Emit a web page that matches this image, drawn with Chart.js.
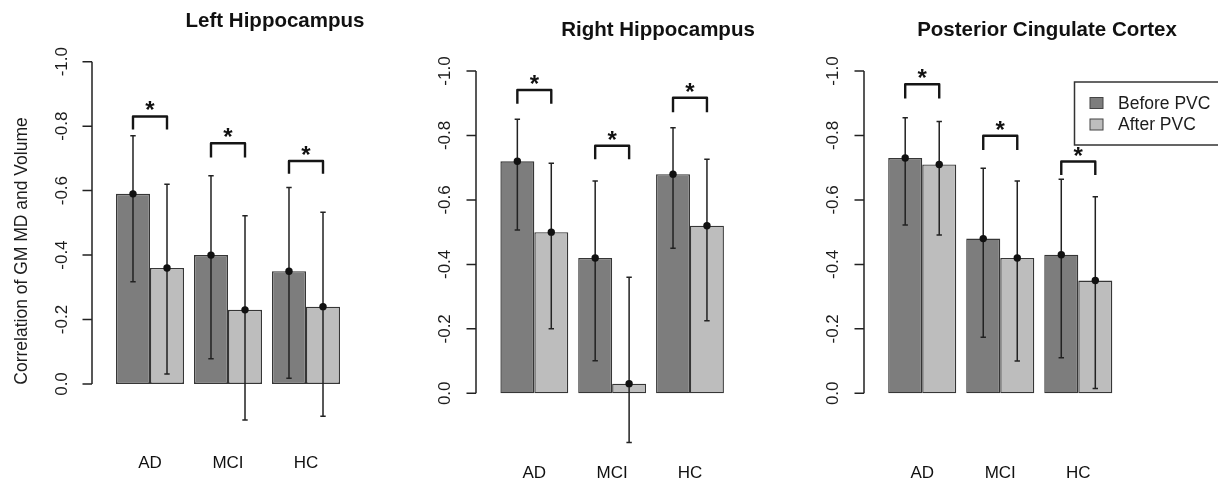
<!DOCTYPE html>
<html>
<head>
<meta charset="utf-8">
<script src="https://cdn.jsdelivr.net/npm/chart.js@4.4.0/dist/chart.umd.min.js"></script>
<style>
  html, body { margin: 0; padding: 0; background: #fff; }
  #wrap { position: relative; width: 1218px; height: 483px; overflow: hidden; }
  .panel { position: absolute; top: 0; height: 483px; }
</style>
</head>
<body>
<div id="wrap">
  <div class="panel" style="left:0;width:400px"><canvas id="c1"></canvas></div>
  <div class="panel" style="left:400px;width:400px"><canvas id="c2"></canvas></div>
  <div class="panel" style="left:800px;width:418px"><canvas id="c3"></canvas></div>
</div>
<script>
const groups = ['AD', 'MCI', 'HC'];
const seriesNames = ['Before PVC', 'After PVC'];
const yTicks = [-1.0, -0.8, -0.6, -0.4, -0.2, 0.0];
const titles = ['Left Hippocampus', 'Right Hippocampus', 'Posterior Cingulate Cortex'];
const yAxisTitle = 'Correlation of GM MD and Volume';

// Left hippocampus
const leftBefore = [-0.59, -0.40, -0.35];
const leftAfter = [-0.36, -0.23, -0.24];
const leftBeforeHi = [-0.77, -0.646, -0.61];
const leftBeforeLo = [-0.317, -0.078, -0.018];
const leftAfterHi = [-0.62, -0.522, -0.533];
const leftAfterLo = [-0.031, 0.112, 0.10];
const leftBracketTop = [-0.83, -0.747, -0.692];
const leftBracketLeg = [-0.79, -0.703, -0.652];

// Right hippocampus
const rightBefore = [-0.72, -0.42, -0.68];
const rightAfter = [-0.50, -0.03, -0.52];
const rightBeforeHi = [-0.85, -0.659, -0.824];
const rightBeforeLo = [-0.507, -0.101, -0.45];
const rightAfterHi = [-0.714, -0.36, -0.726];
const rightAfterLo = [-0.20, 0.153, -0.225];
const rightBracketTop = [-0.941, -0.768, -0.917];
const rightBracketLeg = [-0.898, -0.726, -0.872];

// Posterior cingulate cortex
const pccBefore = [-0.73, -0.48, -0.43];
const pccAfter = [-0.71, -0.42, -0.35];
const pccBeforeHi = [-0.855, -0.698, -0.664];
const pccBeforeLo = [-0.522, -0.174, -0.11];
const pccAfterHi = [-0.843, -0.659, -0.61];
const pccAfterLo = [-0.491, -0.10, -0.015];
const pccBracketTop = [-0.959, -0.799, -0.719];
const pccBracketLeg = [-0.915, -0.755, -0.677];

const FONT = '"Liberation Sans", Arial, sans-serif';
const DARK = '#7d7d7d';
const LIGHT = '#bdbdbd';

// panel layout (pixels inside each canvas)
const panels = {
  c1: {
    width: 400, plotLeft: 111, plotRight: 345, top: 61.7, zero: 384,
    axisX: 92, tickLabelX: 62, titleX: 275, titleY: 21, yTitleX: 22, yTitleY: 251,
    title: titles[0], legend: false,
    values: [leftBefore, leftAfter],
    errors: [{ hi: leftBeforeHi, lo: leftBeforeLo }, { hi: leftAfterHi, lo: leftAfterLo }],
    brackets: { top: leftBracketTop, leg: leftBracketLeg }
  },
  c2: {
    width: 400, plotLeft: 95.4, plotRight: 328.9, top: 71, zero: 393.3,
    axisX: 76, tickLabelX: 45, titleX: 258, titleY: 30,
    title: titles[1], legend: false,
    values: [rightBefore, rightAfter],
    errors: [{ hi: rightBeforeHi, lo: rightBeforeLo }, { hi: rightAfterHi, lo: rightAfterLo }],
    brackets: { top: rightBracketTop, leg: rightBracketLeg }
  },
  c3: {
    width: 418, plotLeft: 83.2, plotRight: 317.3, top: 71, zero: 393.3,
    axisX: 64, tickLabelX: 33, titleX: 247, titleY: 30,
    title: titles[2], legend: true,
    values: [pccBefore, pccAfter],
    errors: [{ hi: pccBeforeHi, lo: pccBeforeLo }, { hi: pccAfterHi, lo: pccAfterLo }],
    brackets: { top: pccBracketTop, leg: pccBracketLeg }
  }
};

const yMin = -1.0, yMax = 0.2;

const decorations = {
  id: 'decorations',
  afterDatasetsDraw(chart) {
    const p = panels[chart.canvas.id];
    const ctx = chart.ctx;
    const y = chart.scales.y;
    ctx.save();

    // error bars with value points
    p.errors.forEach((err, d) => {
      chart.getDatasetMeta(d).data.forEach((bar, i) => {
        const x = bar.x;
        const yHi = y.getPixelForValue(err.hi[i]);
        const yLo = y.getPixelForValue(err.lo[i]);
        ctx.strokeStyle = '#222';
        ctx.lineWidth = 1.5;
        ctx.beginPath();
        ctx.moveTo(x, yHi); ctx.lineTo(x, yLo);
        ctx.moveTo(x - 2.7, yHi); ctx.lineTo(x + 2.7, yHi);
        ctx.moveTo(x - 2.7, yLo); ctx.lineTo(x + 2.7, yLo);
        ctx.stroke();
        ctx.fillStyle = '#111';
        ctx.beginPath();
        ctx.arc(x, bar.y, 3.7, 0, Math.PI * 2);
        ctx.fill();
      });
    });

    // significance brackets
    const m0 = chart.getDatasetMeta(0), m1 = chart.getDatasetMeta(1);
    p.brackets.top.forEach((t, i) => {
      const x0 = m0.data[i].x, x1 = m1.data[i].x;
      const yt = y.getPixelForValue(t);
      const yl = y.getPixelForValue(p.brackets.leg[i]);
      ctx.strokeStyle = '#151515';
      ctx.lineWidth = 2.4;
      ctx.lineJoin = 'round';
      ctx.lineCap = 'butt';
      ctx.beginPath();
      ctx.moveTo(x0, yl); ctx.lineTo(x0, yt); ctx.lineTo(x1, yt); ctx.lineTo(x1, yl);
      ctx.stroke();
      ctx.fillStyle = '#111';
      ctx.font = 'bold 24px ' + FONT;
      ctx.textAlign = 'center';
      ctx.textBaseline = 'alphabetic';
      ctx.fillText('*', (x0 + x1) / 2, yt + 2);
    });
    ctx.restore();
  },
  afterDraw(chart) {
    const p = panels[chart.canvas.id];
    const ctx = chart.ctx;
    const y = chart.scales.y;
    ctx.save();

    // y axis line and ticks from -1.0 to 0.0
    const yTop = y.getPixelForValue(yTicks[0]);
    const yBot = y.getPixelForValue(yTicks[yTicks.length - 1]);
    ctx.strokeStyle = '#222';
    ctx.lineWidth = 1.5;
    ctx.beginPath();
    ctx.moveTo(p.axisX, yTop); ctx.lineTo(p.axisX, yBot);
    yTicks.forEach(v => {
      const ty = y.getPixelForValue(v);
      ctx.moveTo(p.axisX - 9.5, ty); ctx.lineTo(p.axisX, ty);
    });
    ctx.stroke();

    // rotated tick labels
    ctx.fillStyle = '#1c1c1c';
    ctx.font = '17px ' + FONT;
    ctx.textAlign = 'center';
    ctx.textBaseline = 'middle';
    yTicks.forEach(v => {
      const ty = y.getPixelForValue(v);
      ctx.save();
      ctx.translate(p.tickLabelX, ty);
      ctx.rotate(-Math.PI / 2);
      ctx.fillText(v === 0 ? '0.0' : v.toFixed(1), 0, 0);
      ctx.restore();
    });

    // axis title (first panel only)
    if (p.yTitleX !== undefined) {
      ctx.save();
      ctx.translate(p.yTitleX, p.yTitleY);
      ctx.rotate(-Math.PI / 2);
      ctx.font = '17.5px ' + FONT;
      ctx.fillText(yAxisTitle, 0, 0);
      ctx.restore();
    }

    // panel title
    ctx.fillStyle = '#111';
    ctx.font = 'bold 20.5px ' + FONT;
    ctx.textAlign = 'center';
    ctx.fillText(p.title, p.titleX, p.titleY);

    // legend box
    if (p.legend) {
      ctx.strokeStyle = '#333';
      ctx.lineWidth = 1.5;
      ctx.strokeRect(274.5, 82, 160, 63);
      chart.data.datasets.forEach((ds, d) => {
        const cy = 103 + d * 21.5;
        ctx.fillStyle = ds.backgroundColor;
        ctx.fillRect(290, cy - 5.5, 13, 11);
        ctx.strokeStyle = '#444';
        ctx.lineWidth = 1;
        ctx.strokeRect(290, cy - 5.5, 13, 11);
        ctx.fillStyle = '#1c1c1c';
        ctx.font = '17.5px ' + FONT;
        ctx.textAlign = 'left';
        ctx.textBaseline = 'middle';
        ctx.fillText(ds.label, 318, cy + 1);
      });
    }
    ctx.restore();
  }
};

function makeChart(id) {
  const p = panels[id];
  const unit = p.zero - p.top;
  const plotBottom = p.zero + yMax * unit;
  new Chart(document.getElementById(id), {
    type: 'bar',
    data: {
      labels: groups,
      datasets: p.values.map((vals, d) => ({
        label: seriesNames[d],
        data: vals,
        backgroundColor: d === 0 ? DARK : LIGHT,
        borderColor: '#363636',
        borderWidth: 1.4,
        borderSkipped: false,
        categoryPercentage: 0.872,
        barPercentage: 1.0
      }))
    },
    options: {
      responsive: true,
      maintainAspectRatio: false,
      animation: false,
      events: [],
      layout: {
        padding: { left: p.plotLeft, right: p.width - p.plotRight, top: p.top, bottom: 0 }
      },
      plugins: {
        legend: { display: false },
        title: { display: false },
        tooltip: { enabled: false }
      },
      scales: {
        x: {
          offset: true,
          grid: { display: false, drawTicks: false },
          border: { display: false },
          ticks: { color: '#111', font: { family: FONT, size: 17 }, padding: 5, maxRotation: 0 },
          afterFit(scale) { scale.height = 483 - plotBottom; }
        },
        y: { display: false, reverse: true, min: yMin, max: yMax }
      }
    },
    plugins: [decorations]
  });
}

['c1', 'c2', 'c3'].forEach(makeChart);
</script>
</body>
</html>
